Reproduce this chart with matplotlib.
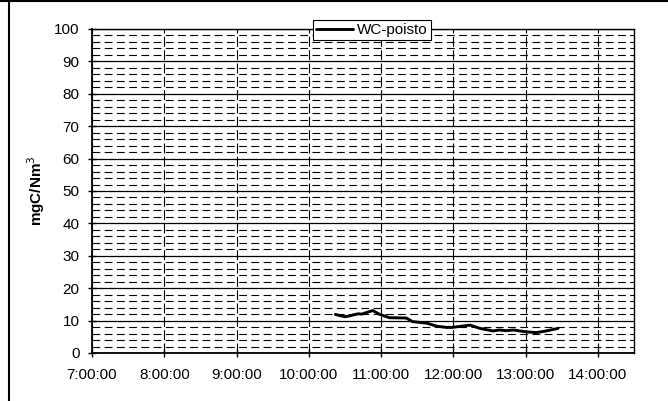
import matplotlib
matplotlib.use("Agg")
import matplotlib.pyplot as plt
from matplotlib.ticker import MultipleLocator, FuncFormatter
from matplotlib.lines import Line2D

plt.rcParams['font.family'] = ['Liberation Sans', 'DejaVu Sans']

# data
times = ["10:22", "10:30", "10:33", "10:41", "10:44", "10:53", "10:59", "11:07",
         "11:21", "11:26", "11:38", "11:46", "11:54", "11:59", "12:14", "12:22",
         "12:33", "12:38", "12:44", "12:50", "13:01", "13:09", "13:17", "13:27"]
values = [11.9, 11.2, 11.4, 12.1, 12.0, 13.1, 11.9, 10.9,
          10.8, 9.7, 9.2, 8.3, 7.9, 7.9, 8.6, 7.6,
          6.8, 7.1, 6.9, 7.1, 6.5, 6.3, 6.8, 7.6]
series_name = "WC-poisto"
y_label = "mgC/Nm$^3$"
x_ticks_hours = [7, 8, 9, 10, 11, 12, 13, 14]


def to_hours(t):
    h, m = t.split(":")
    return int(h) + int(m) / 60.0


x = [to_hours(t) for t in times]

fig = plt.figure(figsize=(6.68, 4.01), dpi=100)
ax = fig.add_axes([92 / 668, 48 / 401, (634 - 92) / 668, (353 - 29) / 401])

ax.set_xlim(7, 14.5)
ax.set_ylim(0, 100)

# grid lines
ax.yaxis.set_major_locator(MultipleLocator(10))
ax.yaxis.set_minor_locator(MultipleLocator(2))
ax.set_xticks(x_ticks_hours)
ax.xaxis.set_major_formatter(FuncFormatter(lambda v, p: f"{int(round(v))}:00:00"))

ax.grid(True, which='major', axis='y', color='black', lw=0.9, ls='-')
ax.grid(True, which='minor', axis='y', color='black', lw=0.8, ls=(0, (7, 4)))
ax.grid(True, which='major', axis='x', color='black', lw=0.8, ls=(0, (9, 3)))
ax.set_axisbelow(True)

ax.plot(x, values, color='black', lw=2.1, label=series_name, zorder=3,
        solid_joinstyle='round', solid_capstyle='round')

for s in ax.spines.values():
    s.set_color('black')
    s.set_linewidth(1.0)
ax.spines['left'].set_linewidth(1.3)
ax.spines['bottom'].set_linewidth(1.3)

ax.tick_params(axis='both', which='major', direction='inout', length=6, width=1,
               labelsize=11, colors='black')
ax.tick_params(axis='y', which='minor', length=0)
ax.tick_params(axis='x', pad=8)
ax.tick_params(axis='y', pad=6)

ax.set_ylabel(y_label, fontsize=11, fontweight='bold', labelpad=5)

leg = ax.legend(loc='center', bbox_to_anchor=(372 / 668, 1 - 30 / 401),
                bbox_transform=fig.transFigure, frameon=True, fancybox=False,
                fontsize=11, handlelength=2.4, handletextpad=0.3,
                borderpad=0.2, borderaxespad=0)
leg.get_frame().set_edgecolor('black')
leg.get_frame().set_linewidth(0.8)
leg.get_frame().set_alpha(1)

# outer chart frame
fig.add_artist(Line2D([9 / 668, 9 / 668], [0, 1], transform=fig.transFigure,
                      color='black', lw=1.5))
fig.add_artist(Line2D([0, 1], [1 - 0.5 / 401, 1 - 0.5 / 401], transform=fig.transFigure,
                      color='black', lw=1.5))

fig.savefig("out.png", dpi=100)
